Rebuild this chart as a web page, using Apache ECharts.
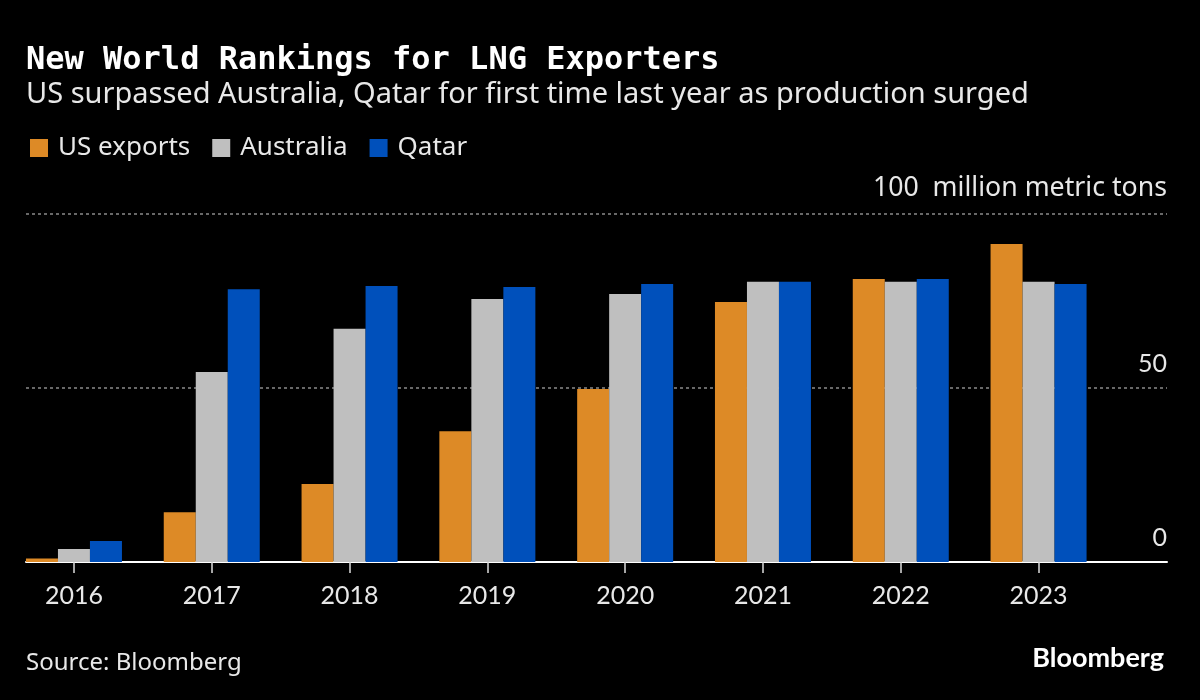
<!DOCTYPE html>
<html lang="en">
<head>
    <meta charset="UTF-8">
    <title>New World Rankings for LNG Exporters</title>
    <style>
        html, body { margin: 0; padding: 0; background: #000; }
        #main { width: 1200px; height: 700px; }
    </style>
</head>
<body>
<div id="main"></div>
<script src="https://cdn.jsdelivr.net/npm/echarts@6/dist/echarts.min.js"></script>
<script>
    // values, million metric tons
    const years = [2016, 2017, 2018, 2019, 2020, 2021, 2022, 2023];
    const usExports = [1, 14.3, 22.4, 37.6, 49.7, 74.7, 81.3, 91.4];
    const australia = [3.7, 54.6, 67, 75.6, 77, 80.5, 80.5, 80.5];
    const qatar = [6, 78.4, 79.3, 79, 79.9, 80.5, 81.3, 79.9];

    const bodyFont = 'Noto Sans';
    const numberFont = 'Lato';
    const textColor = '#e8e8e8';

    function pairs(values) {
        return values.map((v, i) => [years[i], v]);
    }

    function barSeries(name, values, color) {
        return {
            name: name,
            type: 'bar',
            barWidth: 32,
            barGap: 0,
            itemStyle: { color: color },
            data: pairs(values)
        };
    }

    const myChart = echarts.init(document.getElementById('main'));

    myChart.setOption({
        backgroundColor: '#000',
        animation: false,
        title: [
            {
                text: 'New World Rankings for LNG Exporters',
                left: 21, top: 40,
                textStyle: { color: '#fff', fontFamily: 'DejaVu Sans Mono', fontWeight: 'bold', fontSize: 32 }
            },
            {
                text: 'US surpassed Australia, Qatar for first time last year as production surged',
                left: 21, top: 75,
                textStyle: { color: textColor, fontFamily: bodyFont, fontWeight: 'normal', fontSize: 29 }
            },
            {
                text: 'Source: Bloomberg',
                left: 21, top: 646,
                textStyle: { color: textColor, fontFamily: bodyFont, fontWeight: 'normal', fontSize: 24 }
            },
            {
                text: 'Bloomberg',
                right: 31, top: 640,
                textStyle: { color: '#fff', fontFamily: numberFont, fontWeight: 'bold', fontSize: 27 }
            }
        ],
        legend: {
            left: 25, top: 130,
            icon: 'rect',
            itemWidth: 18,
            itemHeight: 18,
            itemGap: 22,
            textStyle: { color: textColor, fontFamily: bodyFont, fontSize: 26, padding: [0, 0, 0, 5] },
            data: ['US exports', 'Australia', 'Qatar']
        },
        grid: { left: 26, right: 33, top: 214, bottom: 138 },
        xAxis: {
            type: 'value',
            min: 2015.652,
            max: 2023.932,
            splitLine: { show: false },
            axisLine: { show: true, lineStyle: { color: '#fff', width: 2 } },
            axisTick: { show: true, length: 11, customValues: years, lineStyle: { color: '#ddd', width: 1.5 } },
            axisLabel: {
                customValues: years,
                formatter: v => String(v),
                color: textColor,
                fontFamily: numberFont,
                fontSize: 25,
                margin: 21
            }
        },
        yAxis: {
            type: 'value',
            position: 'right',
            min: 0,
            max: 100,
            interval: 50,
            axisLine: { show: false },
            axisTick: { show: false },
            splitLine: { show: true, lineStyle: { color: '#8a8a8a', type: [3, 3], width: 1.5 } },
            axisLabel: {
                inside: true,
                margin: 0,
                verticalAlign: 'bottom',
                padding: [0, 0, 12, 0],
                color: textColor,
                fontFamily: numberFont,
                fontSize: 25,
                rich: {
                    unit: { color: textColor, fontFamily: bodyFont, fontSize: 26.7 }
                },
                formatter: v => v === 100 ? '{unit|100  million metric tons}' : String(v)
            }
        },
        series: [
            barSeries('US exports', usExports, '#dd8a26'),
            barSeries('Australia', australia, '#bfbfbf'),
            barSeries('Qatar', qatar, '#0050bb')
        ]
    });
</script>
</body>
</html>
